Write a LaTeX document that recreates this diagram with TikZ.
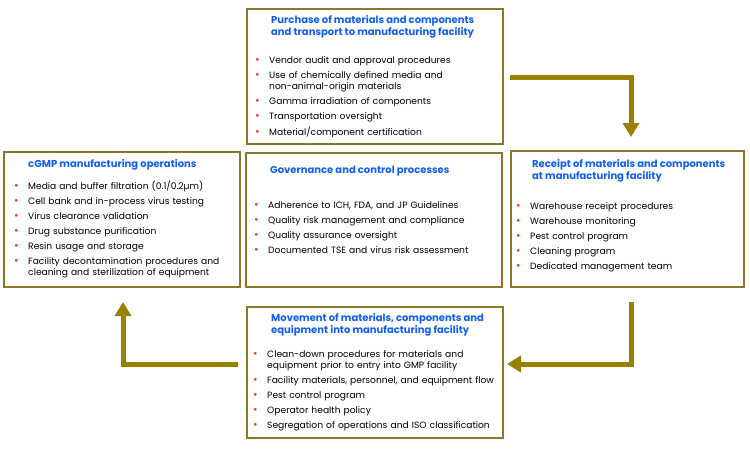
\documentclass[tikz,border=0pt]{standalone}
\usepackage{fontspec}
\setmainfont{Poppins}
\usetikzlibrary{arrows.meta}
\definecolor{boxline}{RGB}{140,120,40}
\definecolor{arrowcol}{RGB}{153,128,0}
\definecolor{titleblue}{RGB}{16,96,240}
\definecolor{bulred}{RGB}{240,60,20}
\newcommand\bitem[1]{\hangindent=14pt\hangafter=1\noindent\makebox[14pt][l]{\textcolor{bulred}{\fontsize{11}{10}\selectfont\textbullet}}#1\par}
\newcommand\brk{\hfil\break}
\tikzset{
  box/.style={draw=boxline, line width=2pt, fill=white, inner sep=0pt},
  ttl/.style={anchor=west, align=left, inner sep=0pt, text=titleblue,
    font=\fontsize{10}{12}\selectfont\bfseries},
  lst/.style={anchor=north west, inner sep=0pt, text width=#1,
    font=\fontsize{9.15}{11}\selectfont\setlength\parskip{4pt}},
  arr/.style={draw=arrowcol, line width=5pt,
    -{Triangle[width=16pt,length=14pt]}}
}
\begin{document}
\begin{tikzpicture}[x=1pt,y=-1pt]
\useasboundingbox (0,0) rectangle (750,450);
% boxes
\node[box, minimum width=256pt, minimum height=135pt] (top) at (375,76.5) {};
\node[box, minimum width=236pt, minimum height=135pt] (left) at (122,219.5) {};
\node[box, minimum width=256pt, minimum height=134pt] (mid) at (374,220) {};
\node[box, minimum width=233pt, minimum height=136pt] (right) at (627.5,219) {};
\node[box, minimum width=256pt, minimum height=131pt] (bot) at (375,372.5) {};
% top
\node[ttl] (toptitle) at (271,27) {Purchase of materials and components\\and transport to manufacturing facility};
\node[lst=245pt] (toplist) at (255,56.5) {%
\bitem{Vendor audit and approval procedures}
\bitem{Use of chemically defined media and\brk non-animal-origin materials}
\bitem{Gamma irradiation of components}
\bitem{Transportation oversight}
\bitem{Material/component certification}};
% left
\node[ttl] (lefttitle) at (28,165) {cGMP manufacturing operations};
\node[lst=225pt] (leftlist) at (14,180.5) {%
\bitem{Media and buffer filtration (0.1/0.2µm)}
\bitem{Cell bank and in-process virus testing}
\bitem{Virus clearance validation}
\bitem{Drug substance purification}
\bitem{Resin usage and storage}
\bitem{Facility decontamination procedures and\brk cleaning and sterilization of equipment}};
% middle
\node[ttl] (midtitle) at (270,171) {Governance and control processes};
\node[lst=245pt] (midlist) at (254,201.5) {%
\bitem{Adherence to ICH, FDA, and JP Guidelines}
\bitem{Quality risk management and compliance}
\bitem{Quality assurance oversight}
\bitem{Documented TSE and virus risk assessment}};
% right
\node[ttl] (righttitle) at (532,171) {Receipt of materials and components\\at manufacturing facility};
\node[lst=225pt] (rightlist) at (516,202.5) {%
\bitem{Warehouse receipt procedures}
\bitem{Warehouse monitoring}
\bitem{Pest control program}
\bitem{Cleaning program}
\bitem{Dedicated management team}};
% bottom
\node[ttl] (bottitle) at (271,325) {Movement of materials, components and\\equipment into manufacturing facility};
\node[lst=260pt] (botlist) at (253,350.5) {%
\bitem{Clean-down procedures for materials and\brk equipment prior to entry into GMP facility}
\bitem{Facility materials, personnel, and equipment flow}
\bitem{Pest control program}
\bitem{Operator health policy}
\bitem{Segregation of operations and ISO classification}};
% arrows
\coordinate (a1s) at (510,77);
\coordinate (a1e) at (631,137);
\coordinate (a2s) at (631,302);
\coordinate (a2e) at (507,364);
\coordinate (a3s) at (238,364);
\coordinate (a3e) at (123,302);
\draw[arr] (a1s) -| (a1e);
\draw[arr] (a2s) |- (a2e);
\draw[arr] (a3s) -| (a3e);
\end{tikzpicture}
\end{document}
